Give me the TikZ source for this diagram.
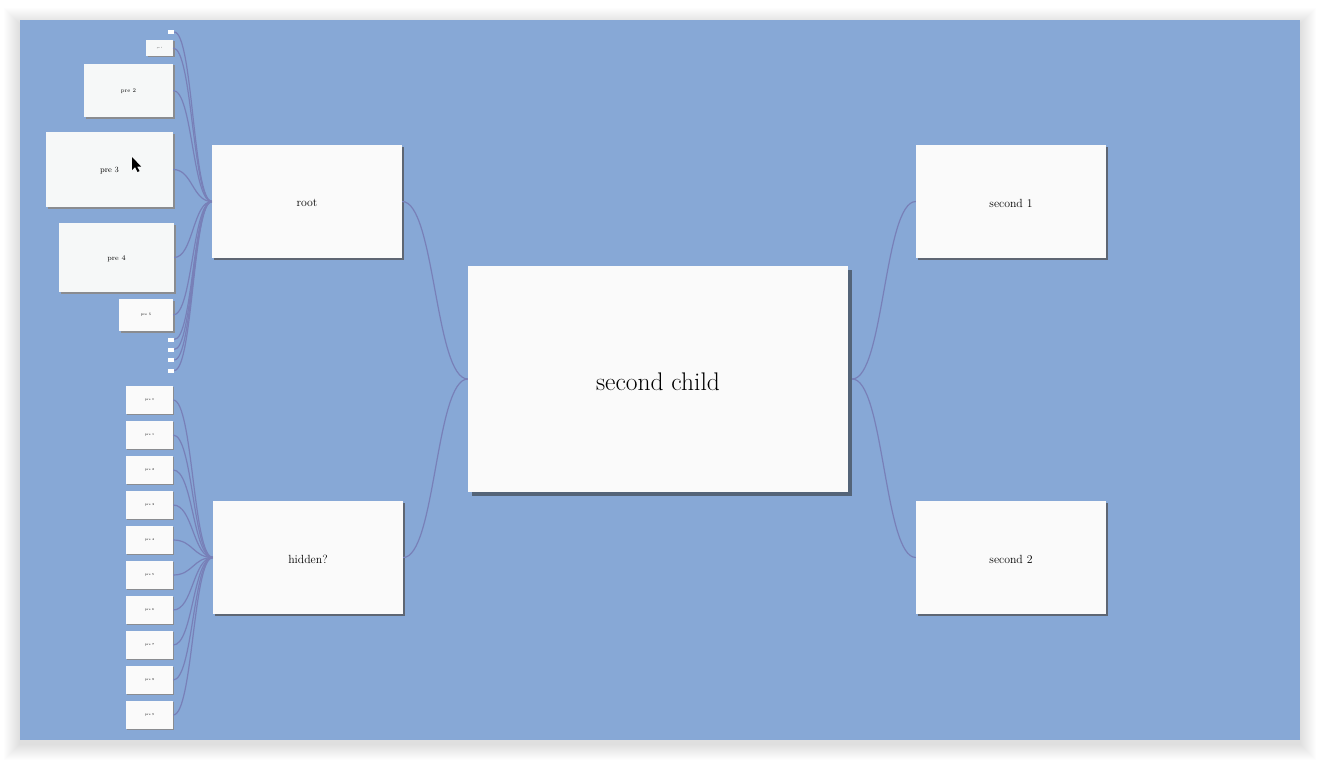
\documentclass[tikz,border=0pt]{standalone}
\usetikzlibrary{shadows,calc}
\definecolor{bgblue}{HTML}{87A8D6}
\definecolor{connc}{HTML}{7880B8}
\definecolor{nodefill}{HTML}{FAFAFA}
\definecolor{prefill}{HTML}{F6F8F8}
\definecolor{bigshadow}{HTML}{546478}
\definecolor{midshadow}{HTML}{5E6673}
\definecolor{smallshadow}{HTML}{8A8C90}
\tikzset{
  box/.style={rectangle, inner sep=0pt, fill=nodefill, align=center},
  mainbox/.style={box, minimum width=190pt, minimum height=113pt, font=\fontsize{11.8}{13}\selectfont,
     drop shadow={shadow xshift=2pt, shadow yshift=-2pt, fill=midshadow, opacity=1}},
  bigbox/.style={box, minimum width=380pt, minimum height=226pt, font=\fontsize{25.5}{28}\selectfont,
     drop shadow={shadow xshift=4pt, shadow yshift=-4pt, fill=bigshadow, opacity=1}},
  prebox/.style={box, fill=prefill,
     drop shadow={shadow xshift=1.5pt, shadow yshift=-1.5pt, fill=smallshadow, opacity=1}},
  leafbox/.style={box, minimum width=47pt, minimum height=28pt, font=\fontsize{3}{3.5}\selectfont,
     drop shadow={shadow xshift=1pt, shadow yshift=-1pt, fill=smallshadow, opacity=1}},
  stub/.style={rectangle, inner sep=0pt, fill=white, minimum width=6pt, minimum height=4pt},
  conn/.style={draw=connc, line width=1.2pt},
}
\newcommand{\linkit}[2]{%
  \draw[conn] let \p1=(#1.east), \p2=(#2.west), \n1={(\x2-\x1)/2} in
    (\p1) .. controls +(\n1,0) and +(-\n1,0) .. (\p2);}
\newcommand{\dn}[2]{\raisebox{-#1pt}[\height][\depth]{#2}}
\begin{document}
\begin{tikzpicture}[x=1pt,y=-1pt]
\useasboundingbox (0,0) rectangle (1320,760);
\fill[white] (0,0) rectangle (1320,760);
% soft frame shadow
\foreach \i in {1,...,16}{
  \fill[black, opacity=0.007] (20-\i,20-\i+4) rectangle (1300+\i,740+\i+4);
}
\fill[bgblue] (20,20) rectangle (1300,740);

% main nodes
\node[mainbox] (root) at (307,201.5) {\dn{1.5}{root}};
\node[mainbox] (hidden) at (308,557.5) {\dn{1.5}{hidden?}};
\node[bigbox] (child) at (658,379) {\dn{3}{second child}};
\node[mainbox] (s1) at (1011,201.5) {\dn{1.5}{second 1}};
\node[mainbox] (s2) at (1011,557.5) {\dn{1.5}{second 2}};

% top-left group
\node[stub] (ta) at (171,32) {};
\node[prebox, minimum width=27pt, minimum height=16pt, font=\fontsize{1.7}{2}\selectfont] (p1) at (159.5,48) {pre 1};
\node[prebox, minimum width=89pt, minimum height=53pt, font=\fontsize{5.6}{6}\selectfont] (p2) at (128.5,90.5) {\dn{1}{pre 2}};
\node[prebox, minimum width=127pt, minimum height=75pt, font=\fontsize{8}{9}\selectfont] (p3) at (109.5,169.5) {\dn{1}{pre 3}};
\node[prebox, minimum width=115pt, minimum height=69pt, font=\fontsize{7.2}{8}\selectfont] (p4) at (116.5,257.5) {\dn{1}{pre 4}};
\node[prebox, fill=nodefill, minimum width=54pt, minimum height=32pt, font=\fontsize{3.4}{4}\selectfont] (p5) at (146,315) {pre 5};
\node[stub] (tb) at (171,339.5) {};
\node[stub] (tc) at (171,349.5) {};
\node[stub] (td) at (171,360) {};
\node[stub] (te) at (171,370.5) {};

\foreach \nm in {ta,p1,p2,p3,p4,p5,tb,tc,td,te}{\linkit{\nm}{root}}

% bottom-left group
\foreach \k in {0,...,9}{
  \node[leafbox] (b\k) at (149.5,400+35*\k) {pre \k};
}
\foreach \k in {0,...,9}{\linkit{b\k}{hidden}}

% main connectors
\linkit{root}{child}
\linkit{hidden}{child}
\draw[conn] let \p1=($(child.east)+(4,0)$), \p2=(s1.west), \n1={(\x2-\x1)/2} in
    (\p1) .. controls +(\n1,0) and +(-\n1,0) .. (\p2);
\draw[conn] let \p1=($(child.east)+(4,0)$), \p2=(s2.west), \n1={(\x2-\x1)/2} in
    (\p1) .. controls +(\n1,0) and +(-\n1,0) .. (\p2);

% mouse pointer
\fill[black] (132,157) -- (132,170) -- (135,167) -- (137.5,172) -- (139.5,171) -- (137,166.5) -- (141,166.5) -- cycle;
\end{tikzpicture}
\end{document}
